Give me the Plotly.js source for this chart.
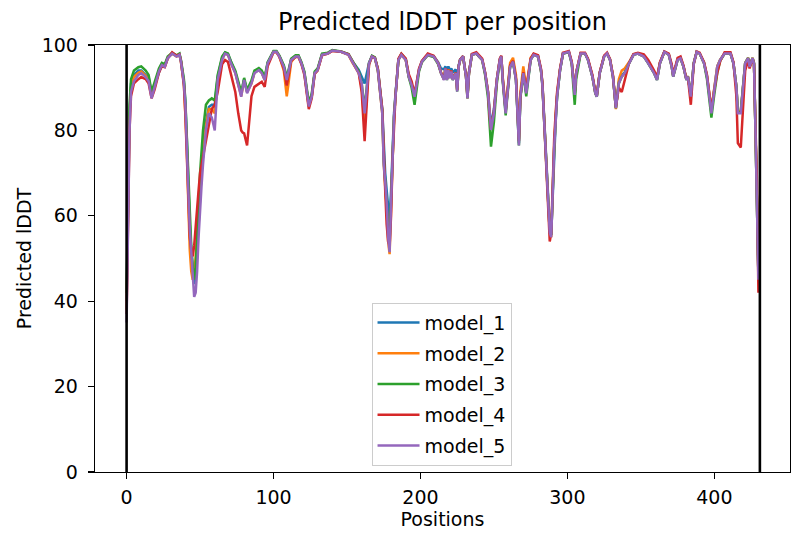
<!DOCTYPE html>
<html>
<head>
<meta charset="utf-8">
<script src="https://cdn.plot.ly/plotly-3.0.1.min.js"></script>
<style>html,body{margin:0;padding:0;background:#fff}#chart{width:799px;height:539px}</style>
</head>
<body>
<div id="chart"></div>
<script>
const positions = [
0,1,2,3,5,8,10,13,15,17,
19,22,24,26,28,31,34,36,37,39,
40,41,42,43,44,45,46,47,48,49,
50,51,52,53,54,56,58,60,62,65,
67,69,71,74,76,78,79,80,82,85,
87,90,92,94,96,100,102,104,107,109,
110,112,115,117,119,121,124,126,128,130,
133,137,140,146,151,154,158,160,162,165,
167,169,171,174,175,176,177,178,179,180,
181,182,183,185,187,190,192,194,196,199,
201,205,209,212,214,216,217,218,219,220,
221,222,224,225,226,227,229,231,232,233,
235,238,242,244,246,247,248,250,252,254,
255,256,258,259,261,263,265,267,268,270,
272,275,277,280,282,283,284,285,286,287,
288,289,290,291,292,293,295,297,301,303,
304,305,306,309,312,314,317,319,320,322,
325,327,329,331,333,335,337,339,342,345,
348,352,355,359,361,363,366,369,371,372,
375,377,379,381,382,384,386,388,390,393,
395,397,398,400,402,404,407,411,413,415,
416,418,420,421,423,424,426,427,428,429,
430];

const model_1 = [
40,62,84,91,93,94,94,93,92.5,88.5,
90.5,94,95.5,95.2,97,98,97.4,97.8,96.3,91.5,
86.5,78,67,58,52,47,44,46,52,60,
67,72,76,79,82,85.5,86,86,92.5,97,
98.2,97.8,96,93.6,91,88.5,90.2,92,89,91.3,
93.6,94.3,93.6,92,95.8,98.5,98.5,97.4,95,92,
93.5,96.6,97.4,97.4,95.8,93.5,86,88.2,93.5,94.3,
97.8,98.1,98.7,98.4,97.8,96,94.2,92.5,91,95.8,
97.4,97,94.3,85,75,70,66,61,58.5,66,
77,84,88.5,96.5,97.8,96.6,92.8,90.8,88.2,94.2,
96.2,97.8,97.4,96,94.5,94.3,95,93.5,95,94,
94.5,93.5,94.3,90.5,95.2,96.6,97.4,92.8,88,93.5,
97.8,98,96.6,93.5,89,84,81,85,92,96.6,
97.4,92,84.5,88.2,95,96.2,92,77,88,93.5,
89,96.6,97.8,97.4,94.2,91,84,76.5,71,65,
57,55.5,66,75,82,88,94.2,98,98.4,95.8,
92,88.5,93.5,98,98,96.6,92.7,88.8,88,93.5,
97.4,98,96.6,92.7,85.3,91.3,92.8,93.6,95.8,97.8,
98,97.4,95.8,93.5,92,95.8,98.4,97.8,95,92.7,
96.6,97,95,92,92.7,88,95.8,98.4,98,95.8,
92.7,87.3,84.5,89.8,95,96.6,98,98,95.8,90.3,
84.5,84.5,92,95.8,97,95,97,95.8,80,66,
46];

const model_2 = [
38,60,83,90,92.5,93.5,93.8,92.8,92,88,
90,94,95.2,95,97,98,97.3,97.7,96,91,
85,76,63,52,47,45,46,50,55,62,
68,72,75,78,81,85,85,84,92,96.8,
98,97.7,95.8,93.5,90.8,88,90,91.8,89,91,
93.5,94.2,93.5,91.8,95.7,98.4,98.4,97.3,94,88,
90.5,96,97.3,97.3,95.7,93.4,85.6,87.9,93.4,94.1,
97.7,98,98.7,98.4,97.7,95.7,93.5,90,81,95.5,
97.3,96.9,94,84,72,67,62,54,51,62,
74,83,88,96.5,97.7,96.5,92.6,90.6,88,94.1,
96.1,97.7,97.3,95.7,93.6,92,94.6,92,94.3,92.5,
94,92,93.5,89.5,95,96.5,97.3,92.6,87.5,93.4,
97.7,98,96.5,93.4,88.7,83.2,80.1,84,91.8,96.5,
97.3,92.5,85,88.5,95.8,97,93,78,89,95,
90,97,97.9,97.4,94.2,91,84,76.5,70.5,64,
56,55,67,76,83,88.5,94.3,98,98.4,95.8,
92,88.5,93.5,98,98,96.6,92.7,88.8,88,93.5,
97.4,98,96.6,93,85,92,94,94.5,96,97.8,
98,97.4,95.8,93.5,92,95.8,98.4,97.8,95,92.7,
96.6,97,95,92,92.7,88,95.8,98.4,98,95.8,
92.7,87.5,85,90,95,96.6,98,98,95.8,90.3,
84.5,84.5,92,95.8,97,95,97,95.8,80,66,
46];

const model_3 = [
42,65,86,92,94,94.8,95,94,93,89,
91,94.5,95.8,95.5,97.3,98.2,97.6,98,96.5,92,
87,79,68,59,53,48,45,48,54,63,
70,76,80,83,86,87,87.5,87,93,97.3,
98.3,98,96.2,94,91.5,89,90.5,92.3,89.5,91.7,
94,94.6,94,92.5,96,98.6,98.6,97.5,95.3,92.5,
93.8,96.8,97.6,97.6,96,93.8,86.5,88.6,93.8,94.5,
98,98.2,98.8,98.5,97.9,96,93.8,91,85,95.8,
97.5,97.1,94.3,84.5,73,68,63,56,54,63,
75,83,88,96.6,97.9,96.7,92.5,90,86,93.8,
96,97.6,97.2,95.5,93.4,92,94.5,91.8,94,92.3,
93.8,91.8,93.4,89.1,95,96.5,97.3,92.6,87.5,93.4,
97.7,98,96.5,93,87.5,81,76.2,82,91,96.3,
97.2,91.5,83.5,87.5,94.8,96,91.8,76.5,87.5,93.4,
88,96.5,97.7,97.3,94,90.5,83.5,76,70.5,64,
56,55.5,66.5,75.5,82.5,88,94.1,98,98.3,95.5,
90.5,86,92,98,98,96.5,92.6,88.7,87.9,93.4,
97.3,98,96.5,92.6,85.2,91,92.6,93.4,95.7,97.7,
98,97.3,95.7,93.4,91.8,95.7,98.4,97.7,94.9,92.6,
96.5,96.9,94.9,91.8,92.6,87.9,95.7,98.4,98,95.7,
92,85.5,83,88.5,93.5,96.3,98,98,95.7,90.2,
84.2,84.2,91.8,95.7,96.9,94.9,96.9,95.7,80,66,
46];

const model_4 = [
37,58,80,88,91,92,92.5,92,91,87.5,
89.5,93.5,95,94.8,96.8,98.3,97.5,97.8,96.2,90.5,
84,74,62,55,52,50.5,53,58,62,66,
70,72,74,75,77,82,85,86,89,95.5,
96.5,96,93.4,89,84,80,79.5,79.3,76.5,88,
90.2,91,91.4,90.2,95,98.3,98.3,97.2,94.5,90.5,
92.5,96.3,97.2,97.2,95.5,93,85,87.5,93.2,94,
97.6,98,98.6,98.4,97.8,96,93.4,89,77.5,95.5,
97.3,97,94.5,85,74,66,58,54,53,60,
73,82,88,96.8,98,96.8,93.2,91.5,88.5,94.5,
96.3,98,97.5,95.8,93.5,92,94.6,92,94.2,92.5,
94,92,93.5,89.5,95,96.6,97.4,92.8,88,93.5,
97.9,98.3,96.8,93.6,89,83.5,80.5,84.5,92,96.8,
97.5,92.2,84.5,88.2,95.2,96.3,92.2,77.5,88,93.6,
89.5,96.8,98,97.6,94.5,91,83,75,69,60,
54,56,70,78,84,89,94.5,98.2,98.6,96,
92.2,89,93.6,98.2,98.2,96.8,93,89,88.2,93.6,
97.5,98.2,96.7,92.8,85.5,90,89,91.5,95.8,97.9,
98.2,97.8,96.5,94,92.5,96,98.5,98,95.5,93,
97,97.3,95.2,92,92.5,86,95.5,98.5,98.2,96,
93,87.5,85,89.5,93.5,96.2,98.3,98.3,96,88,
77,76,88,94,96.5,94.5,96.8,95.5,81,68,
42];

const model_5 = [
35,55,80,89,91.5,93,93.4,92.5,91.5,87.5,
90,93.8,95.3,94.9,96.9,98,97.3,97.7,96.1,91,
86,78,66,57,51,46,41,42,47,55,
62,67,72,76,80,84,83,80,91.8,96.5,
98,97.7,95.7,93.4,90.6,87.9,89.9,91.8,88.7,91,
93.4,94.1,93.4,91.8,95.7,98.4,98.4,97.3,94.9,91.8,
93.4,96.5,97.3,97.3,95.7,93.4,85.6,87.9,93.4,94.1,
97.7,98,98.7,98.4,97.7,95.7,93.4,91,84,95.7,
97.3,96.9,94.1,84,72,68,63,55,51.5,63,
75,83,87.9,96.5,97.7,96.5,92.6,90.6,87.9,94.1,
96.1,97.7,97.3,95.7,93.4,91.8,94.5,91.8,94.1,92.2,
93.8,91.8,93.4,89.1,95,96.5,97.3,92.6,87.5,93.4,
97.7,98,96.5,93.4,88.7,83.2,80.1,84,91.8,96.5,
97.3,91.8,84,87.9,94.9,96.1,91.8,76.5,87.9,93.4,
88.7,96.5,97.7,97.3,94.1,90.5,84,76.2,71,65,
56,55,68,76,82,88,94.1,98,98.4,95.7,
91.8,88.3,93.4,98,98,96.5,92.6,88.7,87.9,93.4,
97.3,98,96.5,92.6,85.2,91,92.6,93.4,95.7,97.7,
98,97.3,95.7,93.4,91.8,95.7,98.4,97.7,94.9,92.6,
96.5,96.9,94.9,91.8,92.6,87.9,95.7,98.4,98,95.7,
92.6,87.1,84,89.5,94.9,96.5,98,98,95.7,90.2,
84,84,91.8,95.7,96.9,94.9,96.9,95.7,80,66,
45];

const modelNames = ["model_1","model_2","model_3","model_4","model_5"];
const modelValues = [model_1, model_2, model_3, model_4, model_5];
const colors = ["#1f77b4","#ff7f0e","#2ca02c","#d62728","#9467bd"];
const vlines = [0, 431];
const xTicks = [0,100,200,300,400];
const yTicks = [0,20,40,60,80,100];

const FONT = "DejaVu Sans, sans-serif";
const FS = 19;

const traces = modelNames.map((name, i) => ({
  type: "scatter",
  mode: "lines",
  name: name,
  legendgroup: name,
  x: positions,
  y: modelValues[i],
  line: {color: colors[i], width: 2.5},
  hoverinfo: "skip"
}));

const shapes = vlines.map(v => ({
  type: "line", xref: "x", yref: "paper",
  x0: v, x1: v, y0: 0, y1: 1,
  line: {color: "#000000", width: 2.6},
  layer: "above"
}));

const layout = {
  width: 799, height: 539,
  margin: {l: 95, r: 9, t: 45, b: 67, pad: 0},
  paper_bgcolor: "#ffffff",
  plot_bgcolor: "#ffffff",
  font: {family: FONT, size: FS, color: "#000000"},
  title: {
    text: "Predicted lDDT per position",
    font: {family: FONT, size: 24, color: "#000000"},
    x: 0.5, xref: "paper", xanchor: "center",
    y: 1 - 22/539, yref: "container", yanchor: "middle"
  },
  xaxis: {
    range: [-21.5, 451.5],
    tickvals: xTicks,
    ticktext: xTicks.map(String),
    ticks: "outside", ticklen: 6, tickwidth: 1.3, tickcolor: "#000",
    ticklabelstandoff: 2,
    showline: true, linecolor: "#000", linewidth: 1.3, mirror: true,
    showgrid: false, zeroline: false,
    tickfont: {family: FONT, size: FS, color: "#000"},
    title: {text: "Positions", font: {family: FONT, size: FS, color: "#000"}, standoff: 5}
  },
  yaxis: {
    range: [0, 100],
    tickvals: yTicks,
    ticktext: yTicks.map(String),
    ticks: "outside", ticklen: 6, tickwidth: 1.3, tickcolor: "#000",
    ticklabelstandoff: 6,
    showline: true, linecolor: "#000", linewidth: 1.3, mirror: true,
    showgrid: false, zeroline: false,
    tickfont: {family: FONT, size: FS, color: "#000"},
    title: {text: "Predicted lDDT", font: {family: FONT, size: FS, color: "#000"}, standoff: 5}
  },
  showlegend: true,
  legend: {
    x: 0.4986, xanchor: "center",
    y: 0.0146, yanchor: "bottom",
    bgcolor: "rgba(255,255,255,0.8)",
    bordercolor: "#cccccc", borderwidth: 1,
    font: {family: FONT, size: FS, color: "#000"},
    traceorder: "grouped",
    tracegroupgap: 3,
    itemwidth: 42
  },
  shapes: shapes
};

Plotly.newPlot("chart", traces, layout, {displayModeBar: false, staticPlot: true});
</script>
</body>
</html>
